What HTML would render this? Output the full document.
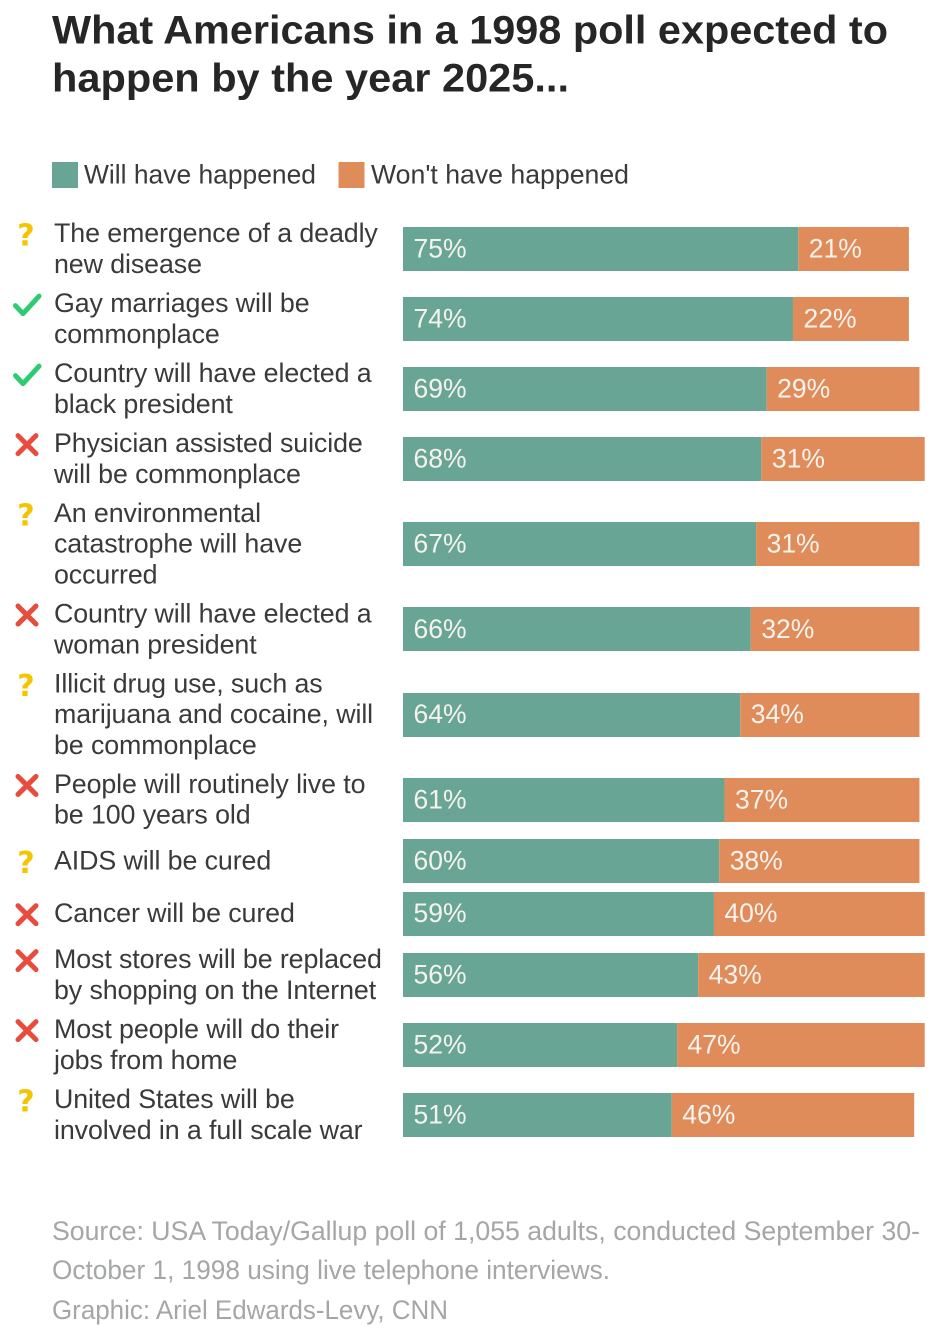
<!DOCTYPE html>
<html lang="en">
<head>
<meta charset="utf-8">
<title>What Americans in a 1998 poll expected to happen by the year 2025</title>
<style>
html,body{margin:0;padding:0;background:#fff;width:951px;height:1328px;overflow:hidden}
svg{display:block}
text{font-family:"Liberation Sans",sans-serif}
.title{font-size:40px;font-weight:700;fill:#262626}
.legend{font-size:27px;fill:#3a3a3a}
.label{font-size:26.800px;fill:#3a3a3a}
.value{font-size:26.500px;fill:#f6f3ee}
.source{font-size:27px;fill:#a4a6a8}
</style>
</head>
<body>
<svg id="chart" xmlns="http://www.w3.org/2000/svg" width="951" height="1328" viewBox="0 0 951 1328">
  <rect width="951" height="1328" fill="#fff"/>
  <text class="title" x="52" y="43.500" textLength="836" lengthAdjust="spacingAndGlyphs">What Americans in a 1998 poll expected to</text>
  <text class="title" x="52" y="91.500" textLength="517" lengthAdjust="spacingAndGlyphs">happen by the year 2025...</text>
  <rect x="52" y="162" width="26" height="26" fill="#69a595"/>
  <text class="legend" x="84" y="183.500" textLength="232" lengthAdjust="spacingAndGlyphs">Will have happened</text>
  <rect x="338.500" y="162" width="26" height="26" fill="#e08c5a"/>
  <text class="legend" x="371" y="183.500" textLength="258" lengthAdjust="spacingAndGlyphs">Won't have happened</text>
  <g id="rows"></g>
  <text class="source" x="52" y="1240" textLength="868" lengthAdjust="spacingAndGlyphs">Source: USA Today/Gallup poll of 1,055 adults, conducted September 30-</text>
  <text class="source" x="52" y="1279" textLength="558" lengthAdjust="spacingAndGlyphs">October 1, 1998 using live telephone interviews.</text>
  <text class="source" x="52" y="1319" textLength="396" lengthAdjust="spacingAndGlyphs">Graphic: Ariel Edwards-Levy, CNN</text>
</svg>
<script>
const categories = [
  ["The emergence of a deadly", "new disease"],
  ["Gay marriages will be", "commonplace"],
  ["Country will have elected a", "black president"],
  ["Physician assisted suicide", "will be commonplace"],
  ["An environmental", "catastrophe will have", "occurred"],
  ["Country will have elected a", "woman president"],
  ["Illicit drug use, such as", "marijuana and cocaine, will", "be commonplace"],
  ["People will routinely live to", "be 100 years old"],
  ["AIDS will be cured"],
  ["Cancer will be cured"],
  ["Most stores will be replaced", "by shopping on the Internet"],
  ["Most people will do their", "jobs from home"],
  ["United States will be", "involved in a full scale war"]
];
const willValues = [75, 74, 69, 68, 67, 66, 64, 61, 60, 59, 56, 52, 51];
const wontValues = [21, 22, 29, 31, 31, 32, 34, 37, 38, 40, 43, 47, 46];
const outcomes = ["unknown", "yes", "yes", "no", "unknown", "no", "unknown", "no", "unknown", "no", "no", "no", "unknown"];

const NS = "http://www.w3.org/2000/svg";
const rowsGroup = document.getElementById("rows");
const xScale = v => 403 + v * 5.27;
const widthScale = v => v * 5.27;
const lineH = 30.7;
const barH = 44;
const rowHeight = n => n === 1 ? 52.6 : n === 2 ? 70 : 100.4;

function make(tag, attrs, parent) {
  const el = document.createElementNS(NS, tag);
  Object.keys(attrs).forEach(k => el.setAttribute(k, attrs[k]));
  parent.appendChild(el);
  return el;
}

function drawIcon(kind, cx, cy, parent) {
  const g = make("g", {}, parent);
  
  
  if (kind === "unknown") {
    const t = make("text", {x: cx - 1, y: cy + 11, "text-anchor": "middle", fill: "#f5c400", "font-size": "30", "font-weight": "700", style: 'font-family:"DejaVu Sans",sans-serif'}, g);
    t.textContent = "?";
  } else if (kind === "yes") {
    make("polyline", {points: (cx - 11.500) + "," + (cy + 1) + " " + (cx - 4) + "," + (cy + 9) + " " + (cx + 12) + "," + (cy - 8.500), fill: "none", stroke: "#2ecc71", "stroke-width": "5", "stroke-linecap": "round", "stroke-linejoin": "round"}, g);
  } else {
    make("path", {d: "M" + (cx - 9) + " " + (cy - 9) + "L" + (cx + 9) + " " + (cy + 9) + "M" + (cx + 9) + " " + (cy - 9) + "L" + (cx - 9) + " " + (cy + 9), fill: "none", stroke: "#e74c3c", "stroke-width": "5", "stroke-linecap": "round"}, g);
  }
}

let cursor = 249 - rowHeight(2) / 2;
categories.forEach((lines, i) => {
  const h = rowHeight(lines.length);
  const cy = cursor + h / 2;
  cursor += h;
  const barTop = Math.round(cy - barH / 2);

  const row = make("g", {}, rowsGroup);
  
  

  const firstCenter = cy - (lines.length - 1) * lineH / 2;
  drawIcon(outcomes[i], 27, firstCenter + 1, row);

  lines.forEach((line, j) => {
    const t = make("text", {class: "label", x: 54, y: firstCenter + j * lineH + 8.5, style: "letter-spacing:-0.1px"}, row);
    
    
    t.textContent = line;
  });

  const willBar = make("rect", {x: xScale(0), y: barTop, width: widthScale(willValues[i]), height: barH, fill: "#69a595"}, row);
  
  

  const wontBar = make("rect", {x: xScale(willValues[i]), y: barTop, width: widthScale(wontValues[i]), height: barH, fill: "#e08c5a"}, row);
  
  

  const willText = make("text", {class: "value", x: xScale(0) + 10.5, y: cy + 8.5}, row);
  
  
  willText.textContent = willValues[i] + "%";

  const wontText = make("text", {class: "value", x: xScale(willValues[i]) + 10.5, y: cy + 8.5}, row);
  
  
  wontText.textContent = wontValues[i] + "%";
});
</script>
</body>
</html>
